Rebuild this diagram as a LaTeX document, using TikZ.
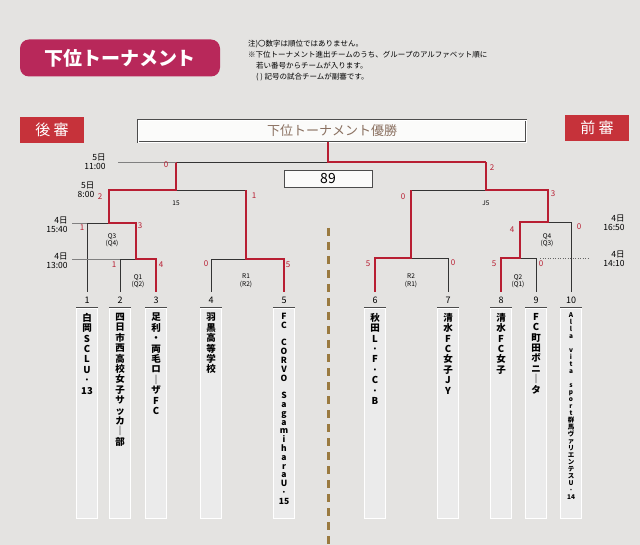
\documentclass[tikz,border=0pt]{standalone}
\usepackage{fontspec}
\setmainfont{Noto Sans CJK JP}
\newfontfamily\cjk{Noto Sans CJK JP}
\usetikzlibrary{calc}
\definecolor{bg}{HTML}{E4E3E1}
\definecolor{pill}{HTML}{B8285A}
\definecolor{redbox}{HTML}{C6323A}
\definecolor{win}{HTML}{B81E32}
\definecolor{ttl}{HTML}{8A7060}
\definecolor{gold}{HTML}{9A7A40}
\tikzset{x=1pt,y=-1pt,
  ln/.style={draw=black!80,line width=0.6pt},
  wn/.style={draw=win,line width=1.5pt},
  sc/.style={text=win,font=\fontsize{8}{8}\selectfont,inner sep=0pt},
  tm/.style={font=\fontsize{8.5}{9}\selectfont,inner sep=0pt,align=right},
  mt/.style={font=\fontsize{6.5}{7.5}\selectfont,inner sep=0pt,align=center},
  num/.style={font=\fontsize{9}{9}\selectfont,inner sep=0pt},
  team/.style={draw=black!70,fill=white!92!black,minimum width=21pt,minimum height=210pt,anchor=north,inner sep=0pt,double=white,double distance=0.6pt},
  tname/.style={anchor=north,align=center,inner sep=0pt,font=\fontsize{9.5}{10.4}\selectfont\bfseries},
}
\begin{document}
\begin{tikzpicture}
\fill[bg] (0,0) rectangle (640,545);
\useasboundingbox (0,0) rectangle (640,545);
% header
\node[fill=pill,rounded corners=9pt,minimum width=200pt,minimum height=37pt,text=white,font=\fontsize{19}{19}\selectfont\bfseries] (hdr) at (120,58) {下位トーナメント};
\node[anchor=north west,align=left,inner sep=0pt,font=\fontsize{7.5}{11}\selectfont] (notes) at (248,40) {注)〇数字は順位ではありません。\\※下位トーナメント進出チームのうち、グループのアルファベット順に\\\hspace*{8pt}若い番号からチームが入ります。\\\hspace*{8pt}( ) 記号の試合チームが副審です。};
\node[fill=redbox,minimum width=64pt,minimum height=26pt,text=white,font=\fontsize{15}{15}\selectfont] (ls) at (52,130) {後 審};
\node[fill=redbox,minimum width=64pt,minimum height=26pt,text=white,font=\fontsize{15}{15}\selectfont] (rs) at (597,128) {前 審};
\node[draw=black!70,fill=white!85!bg,double=white,double distance=0.6pt,minimum width=388pt,minimum height=22pt,text=ttl,font=\fontsize{13}{13}\selectfont] (title) at (332,131) {下位トーナメント優勝};
\node[draw=black!70,fill=white!85!bg,minimum width=88pt,minimum height=16pt,font=\fontsize{14}{14}\selectfont\itshape] (score) at (328,179) {89};
\coordinate (top) at ($(title.south)+(-4,0)$);
% center dashed
\draw[gold,line width=3pt,dash pattern=on 8pt off 6pt] (328,228) -- (328,545);
% bracket coordinates
\foreach \n/\x in {1/87,2/120,3/156,4/211,5/284,6/375,7/448,8/501,9/536,10/571}{
  \coordinate (t\n) at (\x,292);
  \node[num] (n\n) at (\x,300) {\n};
}
% black lines
\draw[ln] (176,162) -- (328,162);
\draw[ln] (176,190) -- (246,190);
\draw[ln] (87,292) -- (87,223) -- (109,223);
\draw[ln] (120,292) -- (120,259) -- (136,259);
\draw[ln] (211,292) -- (211,259) -- (246,259);
\draw[ln] (448,292) -- (448,258) -- (411,258);
\draw[ln] (411,190) -- (486,190);
\draw[ln] (536,292) -- (536,258) -- (520,258);
\draw[ln] (571,292) -- (571,222) -- (548,222);
% red winner paths
\draw[wn] (top) -- (328,162) -- (486,162);
\draw[wn] (156,292) -- (156,259) -- (136,259) -- (136,223) -- (109,223) -- (109,190) -- (176,190) -- (176,162);
\draw[wn] (284,292) -- (284,259) -- (246,259) -- (246,190);
\draw[wn] (375,292) -- (375,258) -- (411,258) -- (411,190);
\draw[wn] (501,292) -- (501,258) -- (520,258) -- (520,222) -- (548,222) -- (548,190) -- (486,190) -- (486,162);
% time lines
\draw[draw=black!50,line width=0.4pt] (118,162) -- (176,162);
\draw[draw=black!50,line width=0.4pt] (72,223) -- (87,223);
\draw[draw=black!50,line width=0.4pt] (72,259) -- (120,259);
\draw[draw=black!60,line width=0.5pt,dotted] (540,258) -- (588,258);
\node[tm] (d1) at (95,162) {5日\\11:00};
\node[tm] (d2) at (86,190) {5日\\8:00};
\node[tm] (d3) at (57,225) {4日\\15:40};
\node[tm] (d4) at (57,261) {4日\\13:00};
\node[tm] (d5) at (614,223) {4日\\16:50};
\node[tm] (d6) at (614,259) {4日\\14:10};
% match labels
\node[mt] (m15) at (176,203) {15};
\node[mt] (mj5) at (486,203) {J5};
\node[mt] (mq3) at (112,240) {Q3\\(Q4)};
\node[mt] (mq1) at (138,281) {Q1\\(Q2)};
\node[mt] (mr1) at (246,281) {R1\\(R2)};
\node[mt] (mr2) at (411,281) {R2\\(R1)};
\node[mt] (mq4) at (547,240) {Q4\\(Q3)};
\node[mt] (mq2) at (518,281) {Q2\\(Q1)};
% scores
\node[sc] at (166,165) {0}; \node[sc] at (492,168) {2};
\node[sc] at (100,197) {2}; \node[sc] at (254,196) {1};
\node[sc] at (82,228) {1}; \node[sc] at (140,226) {3};
\node[sc] at (114,265) {1}; \node[sc] at (161,265) {4};
\node[sc] at (206,264) {0}; \node[sc] at (288,265) {5};
\node[sc] at (403,197) {0}; \node[sc] at (553,194) {3};
\node[sc] at (368,264) {5}; \node[sc] at (453,263) {0};
\node[sc] at (512,230) {4}; \node[sc] at (579,227) {0};
\node[sc] at (494,264) {5}; \node[sc] at (541,264) {0};
% team boxes
\foreach \n/\x in {1/87,2/120,3/156,4/211,5/284,6/375,7/448,8/501,9/536,10/571}{
  \node[team] (b\n) at (\x,308) {};
}
\node[tname] (s1) at (b1.north) [yshift=-5pt] {白\\岡\\S\\C\\L\\U\\·\\13};
\node[tname] (s2) at (b2.north) [yshift=-5pt] {四\\日\\市\\西\\高\\校\\女\\子\\サ\\ッ\\カ\\｜\\部};
\node[tname] (s3) at (b3.north) [yshift=-5pt] {足\\利\\・\\両\\毛\\ロ\\｜\\ザ\\F\\C};
\node[tname] (s4) at (b4.north) [yshift=-5pt] {羽\\黒\\高\\等\\学\\校};
\node[tname,font=\fontsize{8.5}{8.8}\selectfont\bfseries] (s5) at (b5.north) [yshift=-5pt] {F\\C\\\mbox{}\\C\\O\\R\\V\\O\\\mbox{}\\S\\a\\g\\a\\m\\i\\h\\a\\r\\a\\U\\·\\15};
\node[tname] (s6) at (b6.north) [yshift=-5pt] {秋\\田\\L\\·\\F\\·\\C\\·\\B};
\node[tname] (s7) at (b7.north) [yshift=-5pt] {清\\水\\F\\C\\女\\子\\J\\Y};
\node[tname] (s8) at (b8.north) [yshift=-5pt] {清\\水\\F\\C\\女\\子};
\node[tname] (s9) at (b9.north) [yshift=-5pt] {F\\C\\町\\田\\ボ\\ニ\\｜\\タ};
\node[tname,font=\fontsize{6.5}{7}\selectfont\bfseries] (s10) at (b10.north) [yshift=-4pt] {A\\l\\l\\a\\\mbox{}\\v\\i\\t\\a\\\mbox{}\\s\\p\\o\\r\\t\\群\\馬\\ヴ\\ァ\\リ\\エ\\ン\\テ\\ス\\U\\·\\14};
\end{tikzpicture}
\end{document}
